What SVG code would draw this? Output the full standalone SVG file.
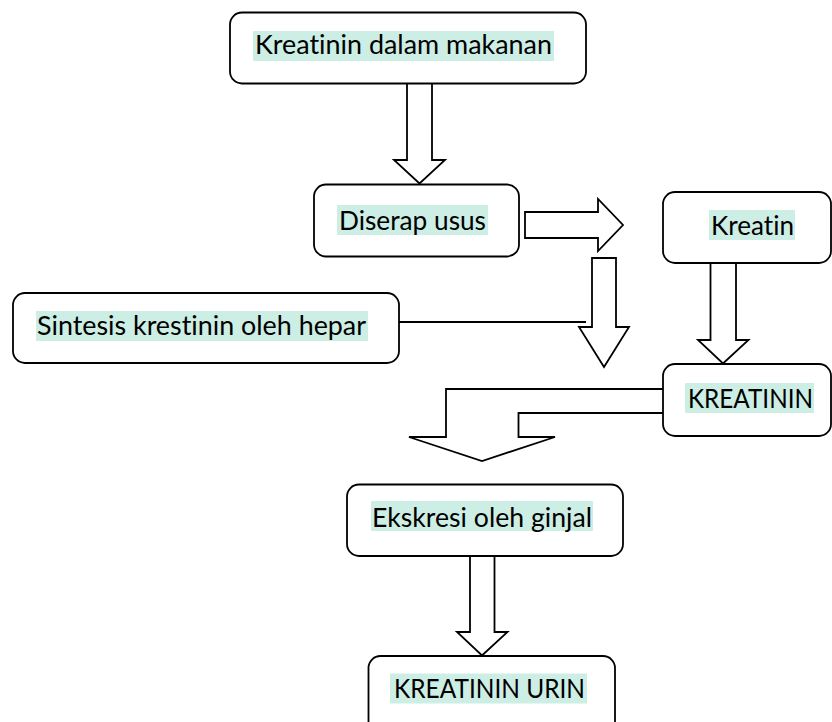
<svg xmlns="http://www.w3.org/2000/svg" width="832" height="722" viewBox="0 0 832 722">
<style>
.box{fill:#fff;stroke:#000;stroke-width:1.8}
.hl{fill:#CDEEE4}
.t{font-family:"Lato","Open Sans","Liberation Sans",sans-serif;font-size:26.5px;fill:#000;font-variant-ligatures:none;font-feature-settings:"liga" 0}
.arr{fill:#fff;stroke:#000;stroke-width:1.8;stroke-linejoin:miter}
.ln{fill:none;stroke:#000;stroke-width:1.8}
</style>
<rect width="832" height="722" fill="#fff"/>
<g id="connectors">
<path class="arr" d="M407,83 L407,160 L394,160 L419.5,183.5 L445,160 L432,160 L432,83"/>
<path class="arr" d="M525,212 L598,212 L598,199 L623,225 L598,251 L598,238 L525,238 Z"/>
<path class="arr" d="M592,258 L616,258 L616,327 L629,327 L604,367 L579,327 L592,327 Z"/>
<path class="ln" d="M399,322 L586,322"/>
<path class="arr" d="M710.5,263 L710.5,340 L698,340 L723,363.5 L748.5,340 L736,340 L736,263"/>
<path class="arr" d="M663,389 L446,389 L446,437 L409,437 L482,461 L555,437 L518.5,437 L518.5,413 L663,413"/>
<path class="arr" d="M470,556 L470,632 L457,632 L482,655.5 L507.5,632 L494.5,632 L494.5,556"/>
</g>
<g id="node-makanan">
<rect class="box" x="230" y="12.5" width="356" height="71" rx="12"/>
<rect class="hl" x="253" y="31" width="301" height="30"/>
<text class="t" x="255" y="54" textLength="297" lengthAdjust="spacingAndGlyphs">Kreatinin dalam makanan</text>
</g>
<g id="node-diserap">
<rect class="box" x="314" y="184.5" width="205" height="72" rx="12"/>
<rect class="hl" x="337" y="205" width="151" height="30"/>
<text class="t" x="339" y="229.5" textLength="147" lengthAdjust="spacingAndGlyphs">Diserap usus</text>
</g>
<g id="node-sintesis">
<rect class="box" x="13" y="293" width="386" height="70" rx="12"/>
<rect class="hl" x="36" y="311" width="332" height="30"/>
<text class="t" x="37" y="335" textLength="329" lengthAdjust="spacingAndGlyphs">Sintesis krestinin oleh hepar</text>
</g>
<g id="node-kreatin">
<rect class="box" x="663" y="192" width="168" height="71" rx="12"/>
<rect class="hl" x="709" y="210" width="86" height="30"/>
<text class="t" x="711" y="235" textLength="83" lengthAdjust="spacingAndGlyphs">Kreatin</text>
</g>
<g id="node-kreatinin">
<rect class="box" x="663" y="364" width="168" height="72" rx="12"/>
<rect class="hl" x="685" y="383" width="129" height="30"/>
<text class="t" x="688" y="407.5" textLength="125" lengthAdjust="spacingAndGlyphs">KREATININ</text>
</g>
<g id="node-ekskresi">
<rect class="box" x="347" y="484.5" width="276" height="71.5" rx="12"/>
<rect class="hl" x="371" y="501" width="222" height="30"/>
<text class="t" x="372" y="526.5" textLength="220" lengthAdjust="spacingAndGlyphs">Ekskresi oleh ginjal</text>
</g>
<g id="node-urin">
<rect class="box" x="368.5" y="656" width="246.5" height="90" rx="12"/>
<rect class="hl" x="390" y="673.5" width="197" height="30"/>
<text class="t" x="394" y="697.5" textLength="191" lengthAdjust="spacingAndGlyphs">KREATININ URIN</text>
</g>
</svg>
